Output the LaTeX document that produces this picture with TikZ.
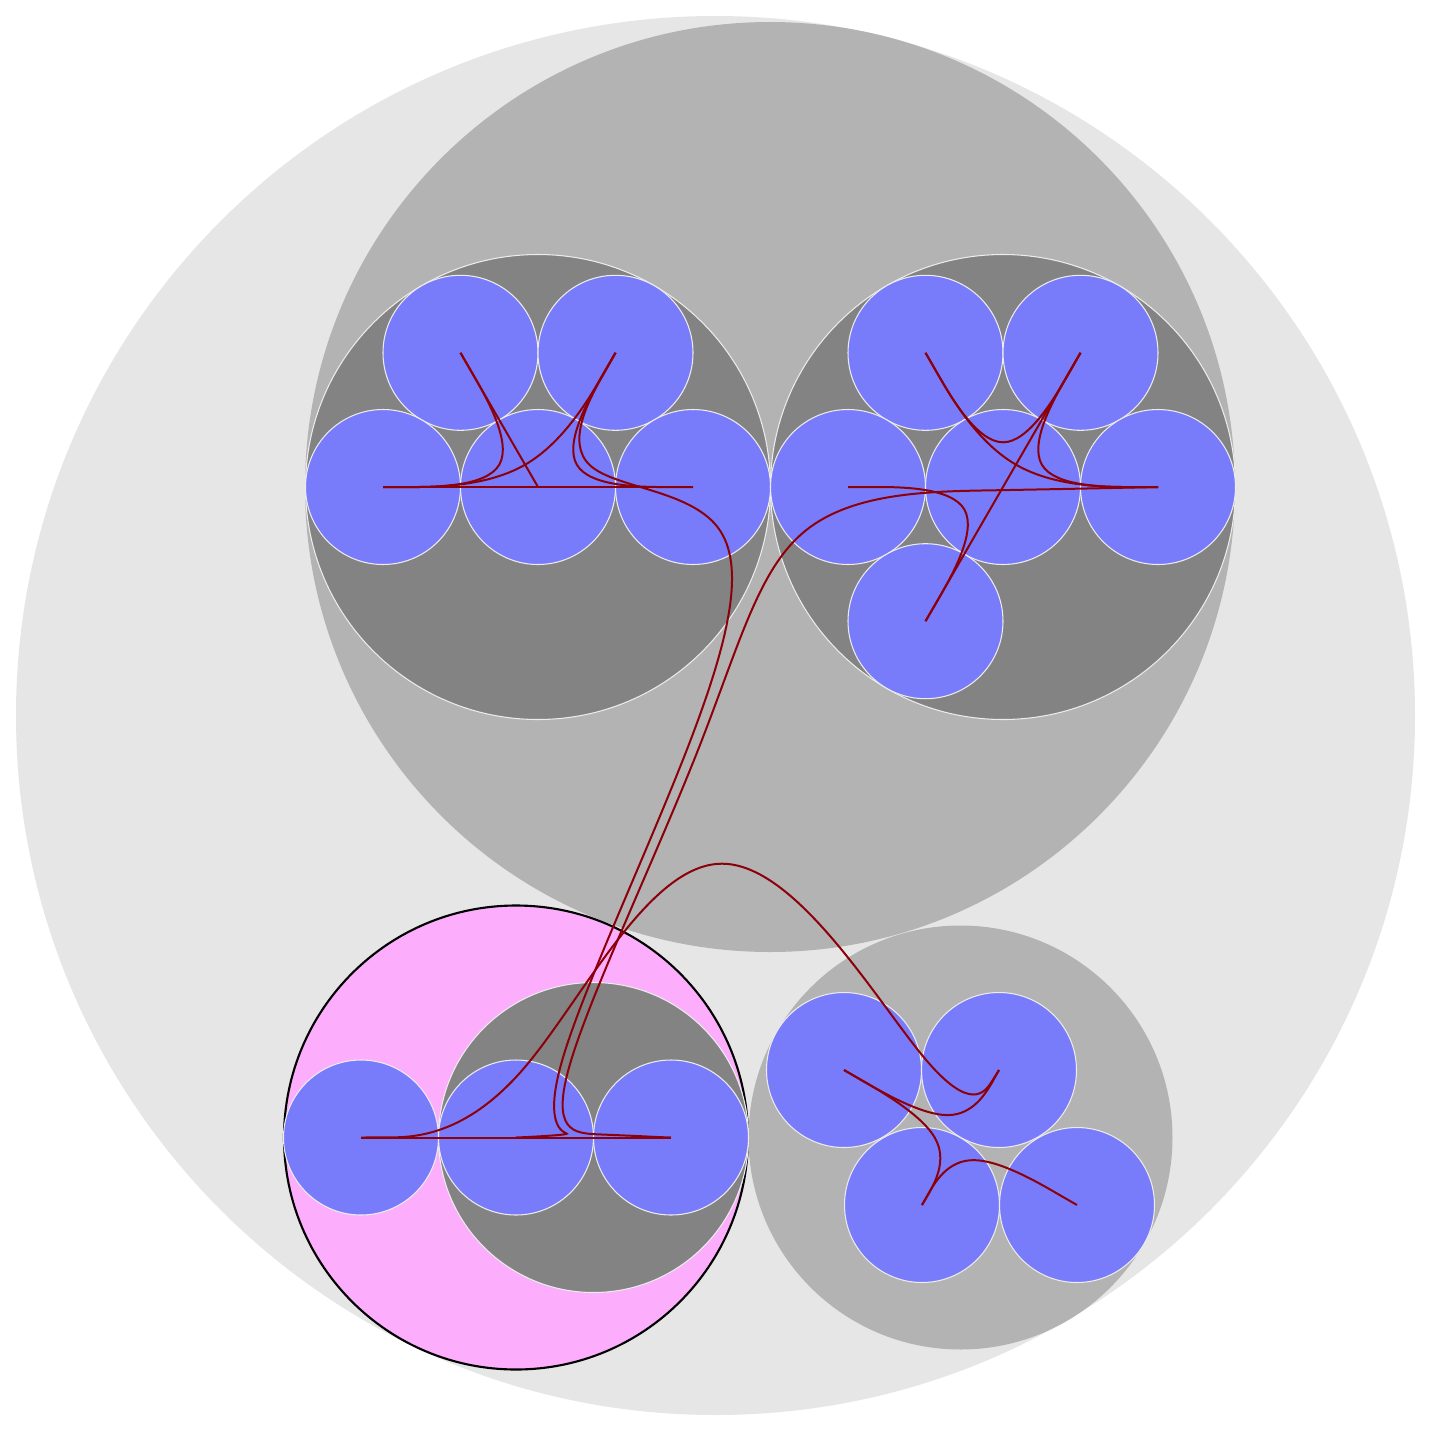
\documentclass[tikz,border=0pt]{standalone}
\usepackage{xcolor}
\usepackage{tikz}
\usetikzlibrary{calc}
\definecolor{rootgray}{RGB}{230,230,230}
\definecolor{midgray}{RGB}{179,179,179}
\definecolor{innergray}{RGB}{131,131,131}
\definecolor{leafblue}{RGB}{121,124,250}
\definecolor{pinkfill}{RGB}{252,174,252}
\definecolor{wirered}{RGB}{140,0,10}
% basis spline through a chain of points, given as triples
\newcommand{\bundlepath}[4]{%
  \draw[wire] (#1.center) -- ($(#1)!1/6!(#2)$)
    \foreach \pA/\pB/\pC in {#4} {
      .. controls ($(\pA)!1/3!(\pB)$) and ($(\pA)!2/3!(\pB)$)
      .. ($0.6667*(\pB)+0.1667*(\pA)+0.1667*(\pC)$)
    } -- (#3.center);}
\newcommand{\bundle}[3]{\bundlepath{#1}{#2}{#3}{#1/#2/#3, #2/#3/#3}}

\begin{document}
\begin{tikzpicture}[x=0.1mm, y=-0.1mm,
    blob/.style={circle, inner sep=0pt, outer sep=0pt},
    outergrp/.style={blob, fill=rootgray},
    midgrp/.style={blob, fill=midgray},
    innergrp/.style={blob, fill=innergray, draw=white!85!gray, line width=0.3pt},
    pinkgrp/.style={blob, fill=pinkfill, draw=black, line width=0.6pt},
    leaf/.style={blob, fill=leafblue, draw=white!85!gray, line width=0.3pt, minimum size=15.5mm},
    wire/.style={draw=wirered, line width=0.2mm}]
  \fill[white] (0,0) rectangle (1430,1430);
  \useasboundingbox (0,0) rectangle (1430,1430);

  % groups
  \node[outergrp, minimum size=139.9mm] (whole) at (715.5,715.5) {};
  \node[midgrp, minimum size=93mm] (big) at (770,487) {};
  \node[innergrp, minimum size=46.5mm] (left) at (538,487) {};
  \node[innergrp, minimum size=46.5mm] (right) at (1003,487) {};
  \node[pinkgrp, minimum size=46.4mm] (pink) at (516,1137.5) {};
  \node[innergrp, minimum size=31mm] (pinkin) at (593.5,1137.5) {};
  \node[midgrp, minimum size=42.4mm] (small) at (960.5,1137.5) {};

  % leaves
  \foreach \n/\x/\y in {l1/460.5/352.8, l2/615.5/352.8, l3/383/487, l4/538/487, l5/693/487,
      r1/925.5/352.8, r2/1080.5/352.8, r3/848/487, r4/1003/487, r5/1158/487, r6/925.5/621.2,
      p1/361/1137.5, p2/516/1137.5, p3/671/1137.5,
      s1/844/1070, s2/999/1070, s3/922/1205, s4/1077/1205}
    \node[leaf] (\n) at (\x,\y) {};

  % links inside the groups
  \draw[wire] (l1.center) -- (l4.center);
  \draw[wire] (l3.center) -- (l5.center);
  \bundle{l1}{left}{l3}
  \bundle{l2}{left}{l3}
  \bundle{l2}{left}{l5}
  \draw[wire] (r2.center) -- (r6.center);
  \bundle{r1}{right}{r5}
  \bundle{r1}{right}{r2}
  \bundle{r2}{right}{r5}
  \bundle{r3}{right}{r6}
  \bundle{s1}{small}{s2}
  \bundle{s1}{small}{s3}
  \bundle{s3}{small}{s4}
  \draw[wire] (p1.center) -- (p3.center);

  % long links, slightly straightened
  \coordinate (lb1) at ($0.97*(left)+0.025*(l2)+0.005*(p2)$);
  \coordinate (lb2) at ($0.97*(big)+0.02*(l2)+0.01*(p2)$);
  \coordinate (lb3) at ($0.97*(whole)+0.015*(l2)+0.015*(p2)$);
  \coordinate (lb4) at ($0.97*(pink)+0.01*(l2)+0.02*(p2)$);
  \coordinate (lb5) at ($0.97*(pinkin)+0.005*(l2)+0.025*(p2)$);
  \bundlepath{l2}{lb1}{p2}{l2/lb1/lb2, lb1/lb2/lb3, lb2/lb3/lb4, lb3/lb4/lb5, lb4/lb5/p2, lb5/p2/p2}

  \coordinate (re1) at ($0.97*(right)+0.025*(r5)+0.005*(p3)$);
  \coordinate (re2) at ($0.97*(big)+0.02*(r5)+0.01*(p3)$);
  \coordinate (re3) at ($0.97*(whole)+0.015*(r5)+0.015*(p3)$);
  \coordinate (re4) at ($0.97*(pink)+0.01*(r5)+0.02*(p3)$);
  \coordinate (re5) at ($0.97*(pinkin)+0.005*(r5)+0.025*(p3)$);
  \bundlepath{r5}{re1}{p3}{r5/re1/re2, re1/re2/re3, re2/re3/re4, re3/re4/re5, re4/re5/p3, re5/p3/p3}

  \coordinate (pa1) at ($0.97*(pink)+0.0225*(p1)+0.0075*(s2)$);
  \coordinate (pa2) at ($0.97*(whole)+0.015*(p1)+0.015*(s2)$);
  \coordinate (pa3) at ($0.97*(small)+0.0075*(p1)+0.0225*(s2)$);
  \bundlepath{p1}{pa1}{s2}{p1/pa1/pa2, pa1/pa2/pa3, pa2/pa3/s2, pa3/s2/s2}
\end{tikzpicture}
\end{document}
